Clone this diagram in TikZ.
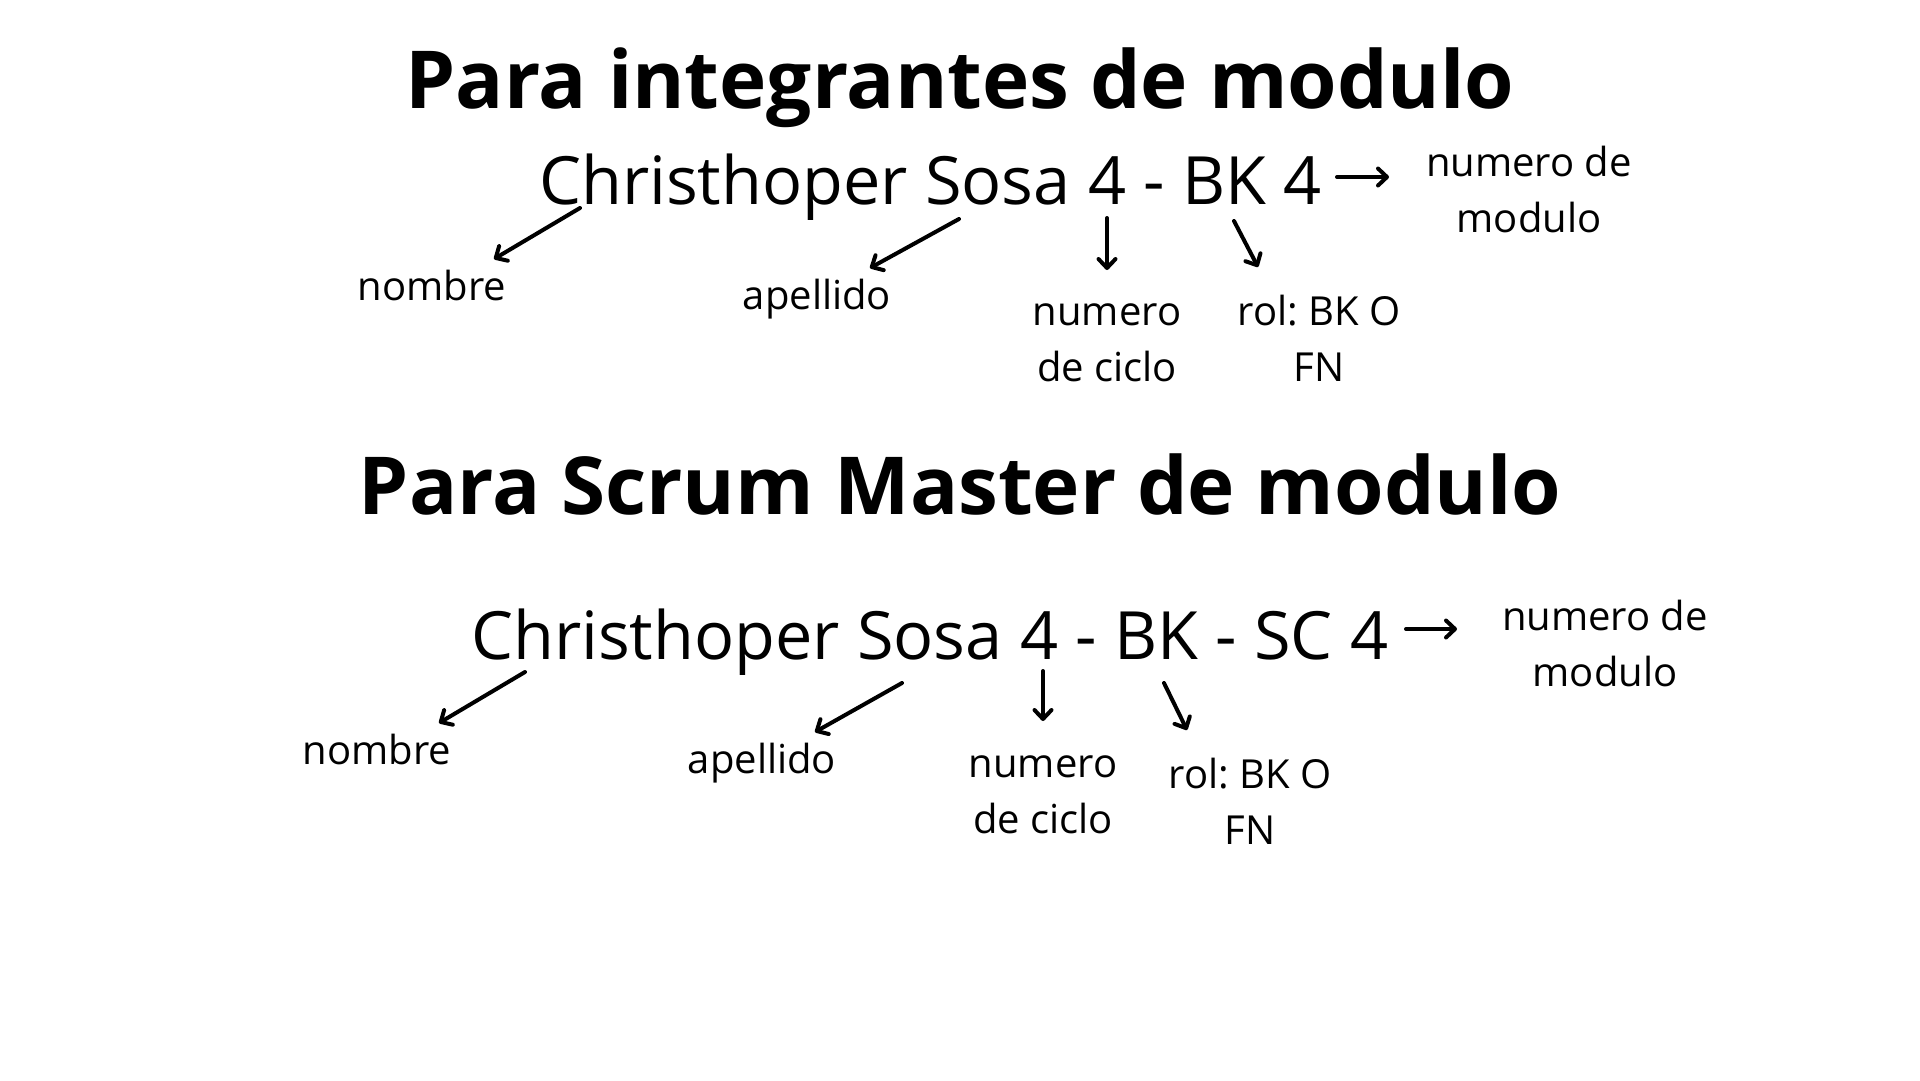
\documentclass[tikz,border=0pt]{standalone}
\usepackage{fontspec}
\setmainfont{Open Sans}
\frenchspacing
\usetikzlibrary{arrows.meta}
\tikzset{
  ttl/.style={anchor=base, inner sep=0, font=\fontsize{80}{90}\selectfont\bfseries},
  mainline/.style={anchor=base west, inner sep=0, font=\fontsize{66.6}{80}\selectfont},
  lbl/.style={anchor=base, inner sep=0, align=center, font=\fontsize{40}{56}\selectfont},
  arr/.style={line width=4, line cap=round, -{Straight Barb[length=9,width=17,line width=4,round]}},
}
\begin{document}
\begin{tikzpicture}[x=1pt,y=-1pt]
\useasboundingbox[fill=white] (0,0) rectangle (1920,1080);
% ---- section 1
\node[ttl] (t1) at (960,108) {Para integrantes de modulo};
\node[mainline] (m1) at (539,204) {Christhoper Sosa 4 - BK 4};
\node[lbl] (mod1) at (1529,232) {numero de\\modulo};
\node[lbl] (nom1) at (432,300) {nombre};
\node[lbl] (ape1) at (817,309) {apellido};
\node[lbl] (cic1) at (1107,381) {numero\\de ciclo};
\node[lbl] (rol1) at (1319,381) {rol: BK O\\FN};
\coordinate (a1s) at (580,208); \coordinate (a1e) at (494,259);
\coordinate (b1s) at (959,219); \coordinate (b1e) at (870,268);
\coordinate (c1s) at (1107,218); \coordinate (c1e) at (1107,270);
\coordinate (d1s) at (1234,221); \coordinate (d1e) at (1258,267);
\coordinate (e1s) at (1337,177); \coordinate (e1e) at (1389,177);
\draw[arr] (a1s) -- (a1e);
\draw[arr] (b1s) -- (b1e);
\draw[arr] (c1s) -- (c1e);
\draw[arr] (d1s) -- (d1e);
\draw[arr] (e1s) -- (e1e);
% ---- section 2
\node[ttl] (t2) at (960,514) {Para Scrum Master de modulo};
\node[mainline] (m2) at (471,659) {Christhoper Sosa 4 - BK - SC 4};
\node[lbl] (mod2) at (1605,686) {numero de\\modulo};
\node[lbl] (nom2) at (377,764) {nombre};
\node[lbl] (ape2) at (762,773) {apellido};
\node[lbl] (cic2) at (1043,833) {numero\\de ciclo};
\node[lbl] (rol2) at (1250,844) {rol: BK O\\FN};
\coordinate (a2s) at (525,672); \coordinate (a2e) at (439,723);
\coordinate (b2s) at (902,683); \coordinate (b2e) at (815,732);
\coordinate (c2s) at (1043,671); \coordinate (c2e) at (1043,721);
\coordinate (d2s) at (1164,683); \coordinate (d2e) at (1187,730);
\coordinate (e2s) at (1406,629); \coordinate (e2e) at (1457,629);
\draw[arr] (a2s) -- (a2e);
\draw[arr] (b2s) -- (b2e);
\draw[arr] (c2s) -- (c2e);
\draw[arr] (d2s) -- (d2e);
\draw[arr] (e2s) -- (e2e);
\end{tikzpicture}
\end{document}
